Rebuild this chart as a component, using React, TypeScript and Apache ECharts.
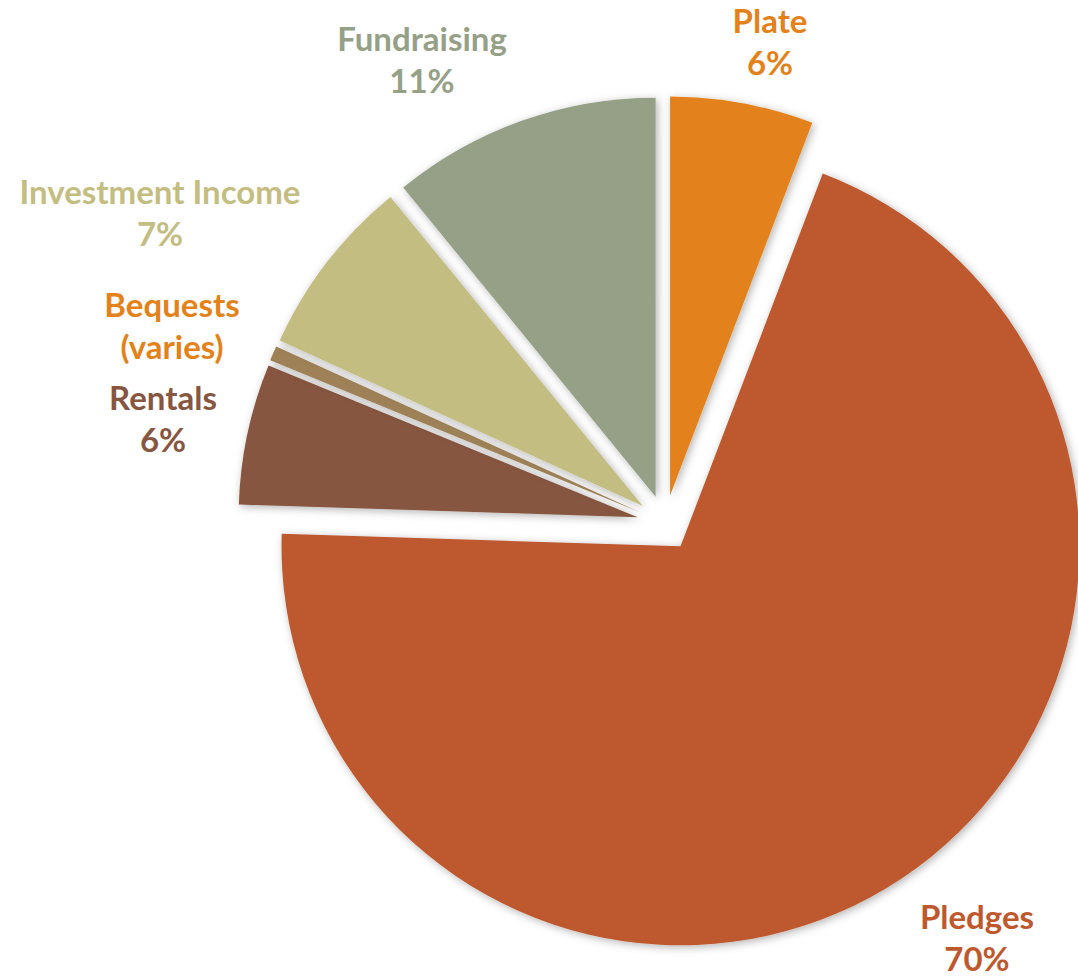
import React, { useEffect, useRef } from "react";
import * as echarts from "echarts";

const categories = ["Plate", "Pledges", "Rentals", "Bequests", "Investment Income", "Fundraising"];
const values = [5.8, 69.7, 5.7, 0.6, 7.3, 10.9];
const sliceColors = ["#E3821A", "#BE582D", "#875640", "#9E8156", "#C4BD82", "#95A087"];
const labelColors = ["#E3821A", "#BE582D", "#875640", "#E3821A", "#C4BD82", "#95A087"];
const customLabels: (string | null)[] = [null, null, null, "Bequests\n(varies)", null, null];
const labelPositions = [
  [770, 41],
  [977, 937],
  [163, 418],
  [172, 325],
  [160, 212],
  [422, 59],
];

export default function App() {
  const ref = useRef<HTMLDivElement>(null);
  useEffect(() => {
    document.body.style.margin = "0";
    if (!ref.current) return;
    const chart = echarts.init(ref.current, undefined, { renderer: "svg" });
    chart.setOption({
      animation: false,
      backgroundColor: "#ffffff",
      series: [
        {
          type: "pie",
          z: 2,
          center: [665, 523],
          radius: [0, 399],
          startAngle: 90,
          clockwise: true,
          selectedMode: "multiple",
          selectedOffset: 28,
          silent: true,
          label: { show: false },
          labelLine: { show: false },
          itemStyle: {
            shadowBlur: 8,
            shadowColor: "rgba(0,0,0,0.3)",
            shadowOffsetX: 2,
            shadowOffsetY: 2,
          },
          emphasis: { disabled: true },
          data: categories.map((name, i) => ({
            name,
            value: values[i],
            selected: true,
            itemStyle: { color: sliceColors[i] },
            select: { itemStyle: { color: sliceColors[i] } },
          })),
        },
        {
          type: "pie",
          z: 5,
          center: [665, 523],
          radius: [0, 399],
          startAngle: 90,
          clockwise: true,
          silent: true,
          selectedMode: false,
          avoidLabelOverlap: false,
          itemStyle: { color: "rgba(0,0,0,0)" },
          label: {
            show: true,
            position: "outside",
            fontFamily: "Lato",
            fontWeight: "bold",
            fontSize: 33,
            lineHeight: 42,
            align: "center",
            formatter: (p: any) => {
              const c = customLabels[p.dataIndex];
              if (c) return c;
              return p.name + "\n" + Math.round(p.percent) + "%";
            },
          },
          labelLine: { show: false },
          labelLayout: (p: any) => {
            const pos = labelPositions[p.dataIndex];
            return { x: pos[0], y: pos[1], align: "center", verticalAlign: "middle" };
          },
          emphasis: { disabled: true },
          data: categories.map((name, i) => ({
            name,
            value: values[i],
            label: { color: labelColors[i] },
          })),
        },
      ],
    });
    return () => chart.dispose();
  }, []);
  return <div ref={ref} style={{ width: 1078, height: 978 }} />;
}
